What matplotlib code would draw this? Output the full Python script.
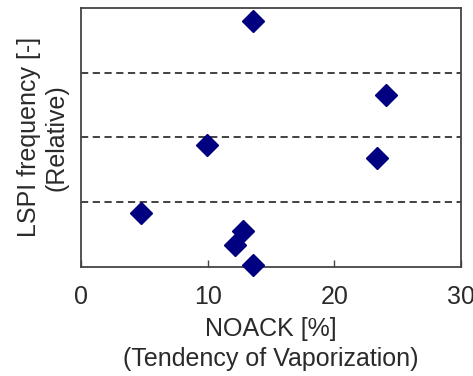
import matplotlib
matplotlib.use('Agg')
import matplotlib.pyplot as plt

# NOACK volatility vs relative LSPI frequency
noack = [13.55, 24.05, 9.97, 23.35, 4.75, 12.8, 12.15, 13.55]
lspi_rel = [3.80, 2.65, 1.88, 1.68, 0.84, 0.56, 0.34, 0.03]
ref_levels = [1, 2, 3]
x_ticks = [0, 10, 20, 30]

plt.rcParams['font.family'] = ['Liberation Sans', 'DejaVu Sans']
txt_color = '#2a2a2a'
fs = 18

fig = plt.figure(figsize=(4.73, 3.76), dpi=100)
ax = fig.add_axes([0.171, 0.290, 0.804, 0.689])

for lv in ref_levels:
    ax.axhline(lv, color='#333333', lw=1.3, ls=(0, (4, 2.5)), zorder=1)

ax.plot(noack, lspi_rel, ls='none', marker='D', ms=11.5, color='#000080',
        mec='#000080', clip_on=False, zorder=3)

ax.set_xlim(0, 30)
ax.set_ylim(0, 4)
ax.set_xticks(x_ticks)
ax.set_yticks([])
ax.tick_params(axis='x', direction='in', length=5, width=1, pad=13,
               labelsize=fs, labelcolor=txt_color, color='#444444')
for s in ax.spines.values():
    s.set_linewidth(1.3)
    s.set_color('#444444')

ax.set_xlabel('NOACK [%]\n(Tendency of Vaporization)', fontsize=fs,
              color=txt_color, linespacing=1.3, labelpad=6)
ax.set_ylabel('LSPI frequency [-]\n(Relative)', fontsize=fs,
              color=txt_color, linespacing=1.2, labelpad=9)

fig.savefig('out.png', dpi=100)
